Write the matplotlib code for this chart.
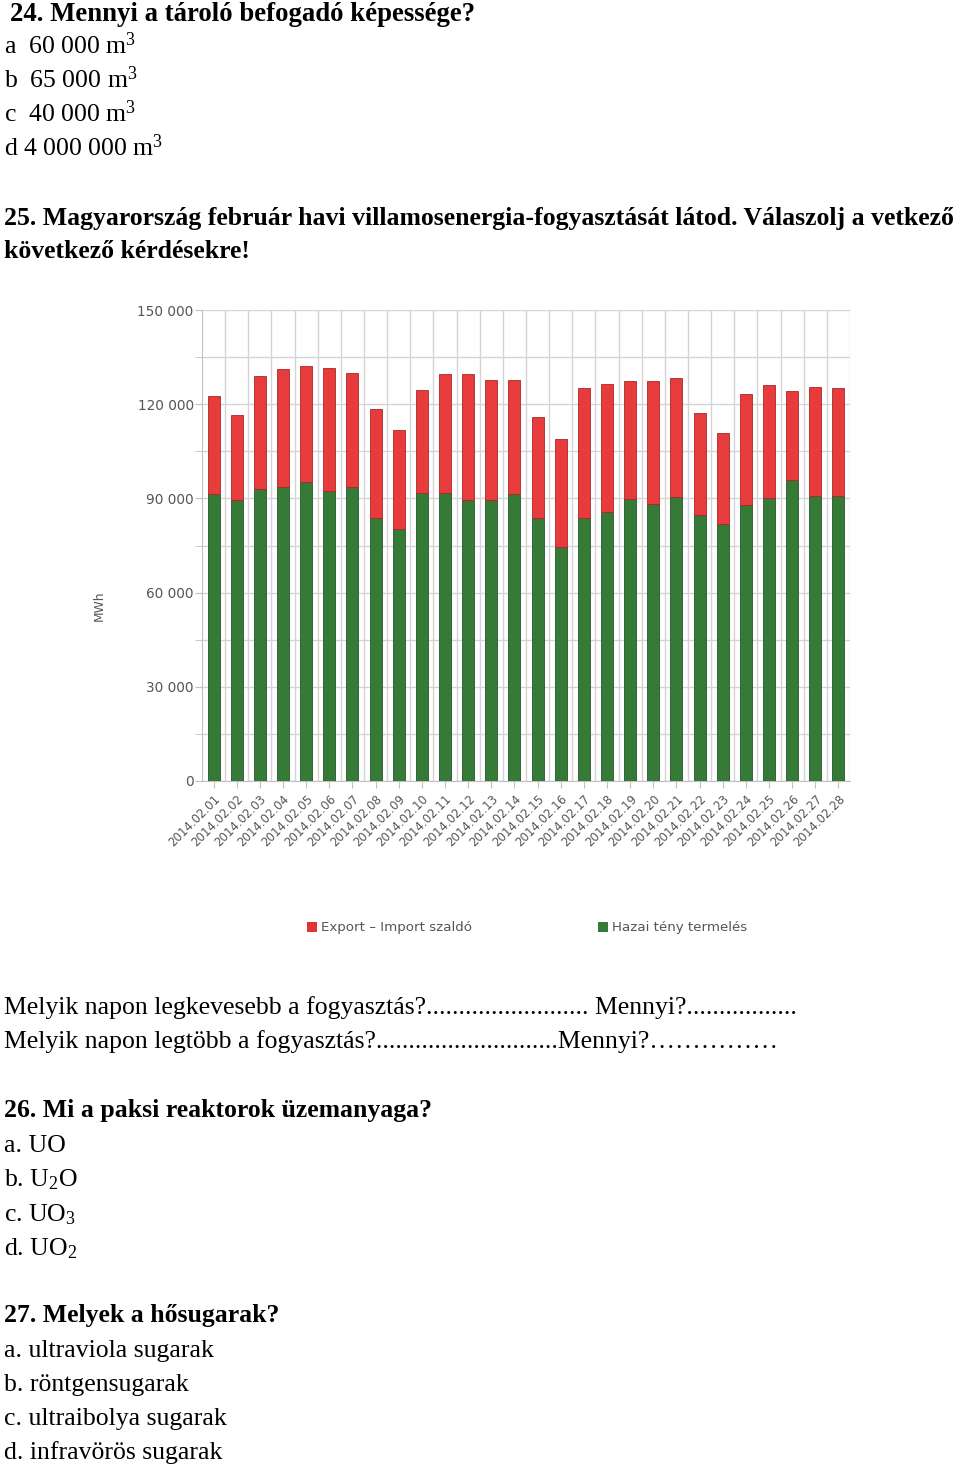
import matplotlib
matplotlib.use("Agg")
import matplotlib.pyplot as plt
from matplotlib.ticker import MultipleLocator, FuncFormatter
from matplotlib.patches import Patch

# daily values, MWh
days = [f"2014.02.{d:02d}" for d in range(1, 29)]
hazai = [91300, 89500, 92900, 93700, 95200, 92500, 93700, 83600, 80400, 91600,
         91600, 89500, 89500, 91300, 83900, 74400, 83900, 85800, 89700, 88200,
         90500, 84700, 82000, 87900, 90100, 95900, 90700, 90900]
szaldo = [31300, 27000, 36100, 37400, 37100, 38900, 36300, 34800, 31400, 32900,
          38000, 40100, 38200, 36400, 32100, 34600, 41400, 40600, 37600, 39100,
          37900, 32600, 28700, 35400, 36100, 28200, 34900, 34400]
series_names = ["Export \u2013 Import szaldó", "Hazai tény termelés"]

plt.rcParams['mathtext.fontset'] = 'custom'
plt.rcParams['mathtext.rm'] = 'Liberation Serif'
plt.rcParams['mathtext.default'] = 'regular'

W, H = 960, 1465
fig = plt.figure(figsize=(W / 100, H / 100), dpi=100)

SERIF = 'Liberation Serif'
FS = 18.5


def txt(x, y, s, bold=False, size=FS):
    fig.text(x / W, 1 - y / H, s, va='baseline', ha='left', family=SERIF,
             fontsize=size, fontweight='bold' if bold else 'normal', color='black')


# text above the chart
txt(10, 21, "24. Mennyi a tároló befogadó képessége?", bold=True, size=19.3)
txt(4, 54, "a  60 000 m$^{3}$")
txt(4, 88, "b  65 000 m$^{3}$")
txt(4, 122, "c  40 000 m$^{3}$")
txt(4, 156, "d 4 000 000 m$^{3}$")
txt(4, 225, "25. Magyarország február havi villamosenergia-fogyasztását látod. Válaszolj a vetkező",
    bold=True, size=18.5)
txt(4, 258, "következő kérdésekre!", bold=True, size=18.5)

# chart
ax = fig.add_axes([202 / W, 1 - 781 / H, 648 / W, 471 / H])
x = list(range(len(days)))
ax.bar(x, hazai, width=0.52, color='#367a37', edgecolor='#24562a', linewidth=0.6, zorder=3)
ax.bar(x, szaldo, width=0.52, bottom=hazai, color='#e83b3b', edgecolor='#a92828',
       linewidth=0.6, zorder=3)
ax.set_xlim(-0.5, len(days) - 0.5)
ax.set_ylim(0, 150000)

ax.yaxis.set_major_locator(MultipleLocator(30000))
ax.yaxis.set_minor_locator(MultipleLocator(15000))
ax.yaxis.set_major_formatter(FuncFormatter(lambda v, p: f"{int(v):,}".replace(",", " ")))
ax.set_xticks(x)
ax.set_xticks([i + 0.5 for i in x], minor=True)
ax.set_xticklabels(days, rotation=45, ha='right', rotation_mode='anchor',
                   fontsize=8.5, color='#555555')
ax.tick_params(axis='x', which='major', length=5, color='#c0c0c0', pad=3)
ax.tick_params(axis='x', which='minor', length=0)
ax.tick_params(axis='y', which='both', length=5, color='#c0c0c0', labelsize=9.8,
               labelcolor='#555555', pad=1)
ax.grid(True, which='both', color='#d4d4d4', linewidth=1, zorder=0)
ax.grid(False, axis='x', which='major')
ax.set_axisbelow(True)
for s in ['top', 'right']:
    ax.spines[s].set_visible(False)
for s in ['left', 'bottom']:
    ax.spines[s].set_color('#c0c0c0')
ax.set_ylabel("MWh", fontsize=8.8, color='#555555')
ax.yaxis.set_label_coords(-0.148, 0.372)

handles = [Patch(facecolor='#e03333', edgecolor='none'),
           Patch(facecolor='#367a37', edgecolor='none')]
fig.legend(handles, series_names, loc='center', ncol=2,
           bbox_to_anchor=(527 / W, 1 - 928 / H), frameon=False, fontsize=9.6,
           labelcolor='#555555', handlelength=0.8, handleheight=0.8,
           handletextpad=0.3, columnspacing=9.4)

# text below the chart
txt(4, 1014, "Melyik napon legkevesebb a fogyasztás?......................... Mennyi?.................")
txt(4, 1048, "Melyik napon legtöbb a fogyasztás?............................Mennyi?\u2026\u2026\u2026\u2026\u2026")
txt(4, 1117, "26. Mi a paksi reaktorok üzemanyaga?", bold=True)
txt(4, 1152, "a. UO")
txt(4, 1186, "b. U$_{2}$O")
txt(4, 1221, "c. UO$_{3}$")
txt(4, 1255, "d. UO$_{2}$")
txt(4, 1322, "27. Melyek a hősugarak?", bold=True)
txt(4, 1357, "a. ultraviola sugarak")
txt(4, 1391, "b. röntgensugarak")
txt(4, 1425, "c. ultraibolya sugarak")
txt(4, 1459, "d. infravörös sugarak")

fig.savefig("out.png", dpi=100)
